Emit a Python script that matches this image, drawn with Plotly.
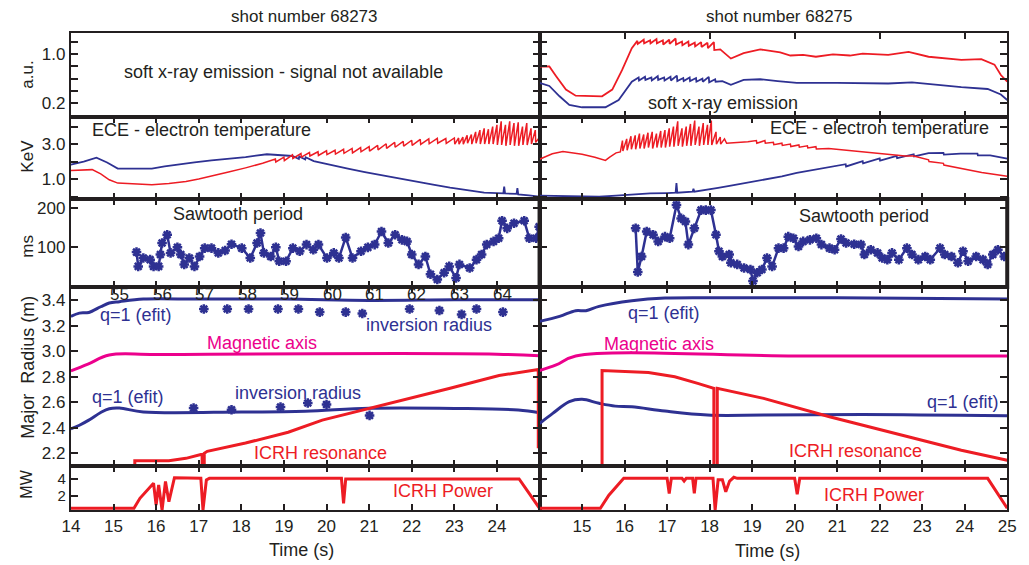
import plotly.graph_objects as go

W, H = 1029, 565
RED = '#ed1c24'
BLUE = '#2e3192'
MAG = '#ec008c'
INK = '#231f20'
FONT = 'Liberation Sans, Arial, Helvetica, sans-serif'

# ---------------- data (time in s) ----------------
# Soft x-ray emission, shot 68275 (a.u.)
sxr_68275_red = [(14.0, 0.8), (14.23, 0.8), (14.39, 0.64), (14.62, 0.42), (14.85, 0.32), (15.47, 0.31),
                 (15.71, 0.42), (15.94, 0.74), (16.17, 1.1), (16.3, 1.22), (16.31, 1.17), (16.45, 1.24),
                 (16.46, 1.18), (16.6, 1.23), (16.61, 1.18), (16.75, 1.25), (16.76, 1.18), (16.9, 1.23),
                 (16.91, 1.16), (17.05, 1.24), (17.06, 1.17), (17.2, 1.26), (17.21, 1.16), (17.35, 1.21),
                 (17.36, 1.15), (17.5, 1.21), (17.51, 1.14), (17.65, 1.19), (17.66, 1.13), (17.8, 1.2),
                 (17.81, 1.12), (17.95, 1.19), (17.96, 1.1), (18.1, 1.2), (18.11, 1.07), (18.25, 1.08),
                 (18.5, 0.93), (18.8, 1.02), (19.19, 1.08), (19.66, 1.03), (19.9, 0.98), (20.2, 0.99),
                 (20.5, 0.96), (20.9, 1.0), (21.3, 0.98), (21.6, 1.01), (22.2, 0.99), (22.68, 1.04),
                 (23.15, 0.96), (23.5, 0.94), (23.92, 0.91), (24.39, 0.92), (24.7, 0.83), (24.85, 0.66),
                 (25.0, 0.55)]
sxr_68275_blue = [(14.0, 0.53), (14.23, 0.48), (14.47, 0.31), (14.7, 0.17), (15.0, 0.13), (15.55, 0.13),
                  (15.86, 0.25), (16.17, 0.55), (16.33, 0.62), (16.34, 0.57), (16.48, 0.63), (16.49, 0.58),
                  (16.63, 0.62), (16.64, 0.57), (16.78, 0.64), (16.79, 0.58), (16.93, 0.62), (16.94, 0.57),
                  (17.08, 0.63), (17.09, 0.57), (17.23, 0.65), (17.24, 0.56), (17.38, 0.61), (17.39, 0.56),
                  (17.53, 0.62), (17.54, 0.56), (17.68, 0.61), (17.69, 0.55), (17.83, 0.6), (17.84, 0.55),
                  (17.98, 0.63), (17.99, 0.54), (18.13, 0.59), (18.14, 0.55), (18.3, 0.56), (18.5, 0.5),
                  (18.8, 0.58), (19.19, 0.59), (19.6, 0.56), (20.05, 0.53), (21.0, 0.53), (21.6, 0.53),
                  (22.2, 0.52), (22.76, 0.54), (23.3, 0.5), (23.92, 0.46), (24.54, 0.43), (24.85, 0.34),
                  (25.0, 0.25)]

# ECE electron temperature (keV)
ece_68273_blue = [(14.0, 1.83), (14.3, 2.0), (14.6, 2.22), (14.85, 1.95), (15.1, 1.6), (15.5, 1.58),
                  (15.9, 1.6), (16.2, 1.72), (16.5, 1.83), (16.9, 1.95), (17.3, 2.07), (17.7, 2.15),
                  (18.1, 2.26), (18.6, 2.42), (18.9, 2.38), (19.2, 2.32), (19.35, 2.15), (19.36, 2.3),
                  (19.5, 2.12), (19.51, 2.25), (19.7, 2.03), (20.1, 1.8), (20.5, 1.6), (20.9, 1.4),
                  (21.3, 1.21), (21.7, 1.04), (22.1, 0.86), (22.5, 0.68), (22.9, 0.51), (23.3, 0.35),
                  (23.7, 0.22), (24.15, 0.18), (24.17, 0.57), (24.19, 0.18), (24.46, 0.15), (24.48, 0.48),
                  (24.5, 0.12), (24.75, 0.07), (25.0, 0.0)]
ece_68273_red = [(14.0, 1.49), (14.25, 1.5), (14.5, 1.54), (14.7, 1.3), (14.9, 0.96), (15.1, 0.77),
                 (15.5, 0.7), (15.9, 0.67), (16.3, 0.75), (16.7, 0.86), (17.0, 1.0), (17.3, 1.16),
                 (17.7, 1.4), (18.1, 1.64), (18.5, 1.9), (18.8, 2.15), (18.81, 1.98), (19.0, 2.25),
                 (19.01, 2.05), (19.2, 2.38), (19.21, 2.18), (19.4, 2.46), (19.41, 2.26), (19.6, 2.52),
                 (19.61, 2.32), (19.8, 2.56), (19.81, 2.35), (20.0, 2.62), (20.01, 2.4), (20.2, 2.65),
                 (20.21, 2.43), (20.4, 2.7), (20.41, 2.47), (20.6, 2.75), (20.61, 2.5), (20.8, 2.8),
                 (20.81, 2.56), (21.0, 2.86), (21.01, 2.6), (21.2, 2.93), (21.21, 2.67), (21.4, 3.02),
                 (21.41, 2.75), (21.6, 3.1), (21.61, 2.82), (21.8, 3.16), (21.81, 2.88), (22.0, 3.22),
                 (22.01, 2.93), (22.2, 3.27), (22.21, 2.98), (22.4, 3.3), (22.41, 3.02), (22.6, 3.33),
                 (22.61, 3.05), (22.8, 3.32), (22.81, 3.04), (23.0, 3.35), (23.01, 3.0), (23.1, 3.35),
                 (23.11, 3.0), (23.2, 3.4), (23.21, 3.0), (23.3, 3.5), (23.31, 3.05), (23.4, 3.55),
                 (23.41, 3.0), (23.5, 3.7), (23.51, 3.05), (23.6, 3.8), (23.61, 3.0), (23.7, 3.9),
                 (23.71, 3.0), (23.8, 3.85), (23.81, 3.0), (23.9, 4.0), (23.91, 3.0), (24.0, 4.1),
                 (24.01, 2.95), (24.1, 4.3), (24.11, 2.95), (24.2, 4.1), (24.21, 2.9), (24.3, 4.3),
                 (24.31, 2.95), (24.4, 4.2), (24.41, 2.9), (24.5, 4.25), (24.51, 2.9), (24.6, 4.0),
                 (24.61, 2.95), (24.7, 4.2), (24.71, 2.95), (24.8, 3.9), (24.81, 3.0), (24.9, 3.8),
                 (24.91, 3.1), (25.0, 3.4)]
ece_68275_red = [(14.0, 2.13), (14.3, 2.45), (14.55, 2.57), (14.8, 2.5), (15.0, 2.42), (15.3, 2.25),
                 (15.55, 2.07), (15.65, 2.25), (15.8, 2.5), (15.9, 2.55), (15.95, 3.2), (15.96, 2.6),
                 (16.05, 3.3), (16.06, 2.65), (16.15, 3.45), (16.16, 2.7), (16.25, 3.5), (16.26, 2.7),
                 (16.35, 3.6), (16.36, 2.75), (16.45, 3.55), (16.46, 2.75), (16.55, 3.65), (16.56, 2.8),
                 (16.65, 3.7), (16.66, 2.75), (16.75, 3.6), (16.76, 2.8), (16.85, 3.75), (16.86, 2.8),
                 (16.95, 3.8), (16.96, 2.8), (17.05, 3.9), (17.06, 2.85), (17.15, 4.0), (17.16, 2.85),
                 (17.25, 4.3), (17.26, 2.9), (17.35, 3.9), (17.36, 2.85), (17.45, 4.0), (17.46, 2.9),
                 (17.55, 4.15), (17.56, 2.9), (17.65, 4.35), (17.66, 2.95), (17.75, 4.0), (17.76, 2.9),
                 (17.85, 4.2), (17.86, 2.95), (17.95, 4.1), (17.96, 2.95), (18.04, 4.35), (18.05, 2.95),
                 (18.15, 3.7), (18.16, 3.0), (18.25, 3.4), (18.26, 3.0), (18.35, 3.3), (18.4, 3.05),
                 (18.5, 3.06), (18.7, 3.12), (18.9, 3.14), (19.1, 3.2), (19.11, 3.05), (19.3, 3.2),
                 (19.31, 3.05), (19.5, 3.1), (19.51, 2.97), (19.7, 3.05), (19.71, 2.92), (19.9, 3.0),
                 (19.91, 2.86), (20.1, 2.95), (20.11, 2.82), (20.3, 2.9), (20.31, 2.78), (20.5, 2.85),
                 (20.51, 2.72), (20.8, 2.75), (21.2, 2.65), (21.6, 2.55), (22.0, 2.46), (22.6, 2.32),
                 (22.8, 2.32), (23.15, 2.1), (23.16, 2.0), (23.5, 1.9), (23.51, 1.8), (23.9, 1.62),
                 (24.4, 1.38), (25.0, 1.16)]
ece_68275_blue = [(14.0, 0.05), (14.5, 0.04), (15.0, 0.0), (15.4, -0.01), (15.8, 0.05), (16.2, 0.13),
                  (16.6, 0.18), (17.0, 0.2), (17.2, 0.22), (17.22, 0.77), (17.24, 0.22), (17.6, 0.28),
                  (17.62, 0.45), (17.64, 0.28), (17.95, 0.38), (18.2, 0.5), (18.5, 0.63), (18.9, 0.8),
                  (19.3, 0.96), (19.7, 1.15), (20.05, 1.35), (20.4, 1.5), (20.8, 1.68), (21.2, 1.85),
                  (21.21, 1.72), (21.6, 2.03), (21.61, 1.9), (22.0, 2.18), (22.01, 2.05), (22.4, 2.32),
                  (22.41, 2.2), (22.8, 2.42), (22.81, 2.3), (23.15, 2.48), (23.5, 2.5), (23.51, 2.4),
                  (23.9, 2.46), (24.3, 2.45), (24.31, 2.35), (24.6, 2.35), (25.0, 2.17)]

# Sawtooth period (ms)
saw_68273 = [(15.54, 88), (15.58, 52), (15.70, 73), (15.86, 69), (15.94, 52), (16.06, 52), (16.10, 82),
             (16.14, 111), (16.26, 132), (16.34, 86), (16.50, 100), (16.58, 82), (16.66, 57), (16.78, 73),
             (16.90, 52), (17.02, 77), (17.14, 98), (17.30, 98), (17.46, 86), (17.62, 92), (17.77, 108),
             (18.01, 98), (18.21, 73), (18.37, 111), (18.45, 136), (18.53, 86), (18.69, 77), (18.81, 100),
             (18.89, 65), (19.05, 65), (19.21, 98), (19.37, 90), (19.53, 107), (19.69, 94), (19.81, 107),
             (20.01, 73), (20.17, 86), (20.29, 73), (20.45, 125), (20.61, 73), (20.81, 90), (20.97, 100),
             (21.13, 107), (21.29, 140), (21.45, 111), (21.61, 132), (21.77, 119), (21.89, 115), (22.00, 82),
             (22.16, 57), (22.32, 77), (22.44, 32), (22.60, 19), (22.76, 36), (22.88, 52), (23.04, 23),
             (23.12, 57), (23.36, 48), (23.52, 69), (23.64, 82), (23.76, 107), (23.92, 115), (24.04, 123),
             (24.12, 167), (24.24, 148), (24.40, 161), (24.64, 167), (24.76, 123), (24.92, 123), (24.99, 152)]
saw_68275 = [(16.26, 148), (16.31, 38), (16.40, 77), (16.52, 140), (16.67, 132), (16.79, 115), (16.95, 127),
             (17.06, 123), (17.22, 207), (17.33, 173), (17.43, 165), (17.50, 107), (17.64, 148), (17.80, 194),
             (17.91, 194), (18.03, 194), (18.15, 132), (18.22, 90), (18.30, 77), (18.46, 82), (18.50, 61),
             (18.65, 57), (18.81, 48), (18.96, 44), (19.02, 15), (19.12, 36), (19.23, 44), (19.35, 73),
             (19.47, 52), (19.62, 98), (19.74, 98), (19.85, 127), (19.97, 123), (20.09, 102), (20.20, 115),
             (20.36, 119), (20.51, 123), (20.63, 107), (20.82, 98), (20.94, 94), (21.09, 121), (21.21, 111),
             (21.40, 108), (21.56, 107), (21.64, 82), (21.79, 94), (21.95, 86), (22.06, 73), (22.18, 69),
             (22.29, 86), (22.45, 69), (22.64, 98), (22.76, 82), (22.91, 69), (23.07, 77), (23.19, 69),
             (23.42, 98), (23.53, 82), (23.69, 77), (23.84, 61), (23.96, 90), (24.08, 65), (24.27, 77),
             (24.43, 69), (24.54, 57), (24.66, 82), (24.78, 94), (24.93, 77)]

# Major radius (m)
q1_out_68273 = [(14.0, 3.274), (14.2, 3.3), (14.42, 3.305), (14.7, 3.35), (14.9, 3.379), (15.14, 3.39),
                (15.7, 3.41), (17.0, 3.41), (19.0, 3.41), (21.0, 3.4), (23.0, 3.405), (25.0, 3.405)]
q1_in_68273 = [(14.0, 2.392), (14.2, 2.42), (14.42, 2.46), (14.7, 2.52), (14.9, 2.55), (15.14, 2.555),
               (15.7, 2.524), (18.0, 2.524), (19.5, 2.53), (21.0, 2.553), (23.0, 2.552), (24.5, 2.54),
               (25.0, 2.518)]
axis_68273 = [(14.0, 2.847), (14.4, 2.9), (14.9, 2.971), (16.0, 2.975), (24.0, 2.978), (25.0, 2.965)]
icrh_res_68273 = [(15.5, 2.05), (15.5, 2.142), (16.3, 2.142), (16.7, 2.16), (17.05, 2.19), (17.08, 2.19),
                  (17.08, 2.05), (17.13, 2.05), (17.13, 2.2), (17.2, 2.215), (18.1, 2.28), (19.1, 2.365),
                  (19.9, 2.46), (21.0, 2.55), (22.9, 2.71), (24.05, 2.81), (24.97, 2.858), (24.97, 2.24)]
inv_out_68273 = [(17.12, 3.332), (17.67, 3.332), (18.17, 3.332), (18.86, 3.332), (19.34, 3.332),
                 (19.84, 3.308), (20.45, 3.308), (20.84, 3.297), (21.95, 3.332), (22.65, 3.32),
                 (23.17, 3.29), (23.52, 3.332), (24.14, 3.308)]
inv_in_68273 = [(16.88, 2.555), (17.77, 2.542), (18.92, 2.563), (19.56, 2.595), (20.0, 2.582), (21.01, 2.497)]
channels = ['55', '56', '57', '58', '59', '60', '61', '62', '63', '64']
channel_t = [15.15, 16.15, 17.14, 18.14, 19.13, 20.13, 21.12, 22.12, 23.12, 24.12]

q1_out_68275 = [(14.0, 3.235), (14.47, 3.274), (14.85, 3.319), (15.09, 3.319), (15.4, 3.353), (16.17, 3.397),
                (16.95, 3.418), (18.5, 3.42), (21.0, 3.42), (25.0, 3.41)]
q1_in_68275 = [(14.0, 2.434), (14.31, 2.513), (14.7, 2.605), (15.0, 2.623), (15.4, 2.592), (15.78, 2.57),
               (16.17, 2.565), (16.95, 2.531), (17.95, 2.5), (19.27, 2.5), (21.6, 2.505), (25.0, 2.494)]
axis_68275 = [(14.0, 2.849), (14.39, 2.893), (14.85, 2.964), (20.0, 2.964), (25.0, 2.964)]
icrh_res_68275 = [(15.47, 2.05), (15.47, 2.849), (16.56, 2.833), (17.18, 2.8), (17.72, 2.749), (18.1, 2.71),
                  (18.1, 2.05), (18.18, 2.05), (18.18, 2.71), (19.27, 2.631), (20.82, 2.487), (22.37, 2.355),
                  (23.92, 2.224), (25.0, 2.145)]

# ICRH power (MW)
pow_68273 = [(14.0, 0.55), (15.48, 0.55), (15.62, 1.73), (15.94, 3.5), (16.0, 0.94), (16.06, 3.3),
             (16.14, 0.35), (16.22, 3.7), (16.3, 1.33), (16.38, 3.3), (16.43, 4.15), (17.05, 4.08),
             (17.1, 0.35), (17.18, 3.9), (17.25, 4.08), (20.35, 4.08), (20.4, 1.14), (20.45, 4.0),
             (24.52, 4.0), (25.0, 0.55)]
pow_68275 = [(14.0, 0.55), (15.43, 0.55), (15.63, 2.1), (15.98, 4.08), (17.0, 4.08), (17.05, 2.3),
             (17.1, 4.08), (17.35, 4.08), (17.4, 3.76), (17.45, 4.08), (17.6, 4.08), (17.64, 2.3),
             (17.68, 4.08), (18.08, 4.08), (18.13, 0.35), (18.2, 3.9), (18.3, 3.9), (18.38, 2.5),
             (18.47, 3.76), (18.57, 4.2), (18.65, 4.08), (20.0, 4.08), (20.06, 2.2), (20.12, 4.08),
             (24.54, 4.08), (25.0, 0.55)]


def unz(pairs):
    return [p[0] for p in pairs], [p[1] for p in pairs]


# ---------------- layout geometry ----------------
cols = [(63, 540), (540, 1016)]
rows = [(33, 117), (117, 199), (199, 287), (287, 466), (466, 510)]
yranges = [[-0.03, 1.35], [-0.14, 4.55], [0, 222], [2.10, 3.505], [0.35, 5.53]]
ytickvals = [[0.2, 0.4, 0.6, 0.8, 1.0, 1.2], [0, 1, 2, 3, 4], [100, 200],
             [2.2, 2.4, 2.6, 2.8, 3.0, 3.2, 3.4], [2, 4]]
yticktext = [['0.2', '', '', '', '1.0', ''], ['', '1.0', '', '3.0', ''], ['100', '200'],
             ['2.2', '2.4', '2.6', '2.8', '3.0', '3.2', '3.4'], ['2', '4']]
ytickfont = [17, 17, 17, 17, 15]


def sfx(r, c):
    k = r * 2 + c + 1
    return '' if k == 1 else str(k)


fig = go.Figure()


def line(pairs, r, c, color, width=2, shape='linear'):
    t, v = unz(pairs)
    s = sfx(r, c)
    fig.add_trace(go.Scatter(x=t, y=v, mode='lines', line=dict(color=color, width=width, shape=shape),
                             xaxis='x' + s, yaxis='y' + s, hoverinfo='skip'))


def stars(pairs, r, c, with_line, size=8):
    t, v = unz(pairs)
    s = sfx(r, c)
    fig.add_trace(go.Scatter(x=t, y=v, mode='lines+markers' if with_line else 'markers',
                             line=dict(color=BLUE, width=2.5),
                             marker=dict(symbol='asterisk', size=size, color=BLUE,
                                         line=dict(color=BLUE, width=2.5)),
                             xaxis='x' + s, yaxis='y' + s, hoverinfo='skip'))


# row 1: soft x-ray (left: no signal -> empty panel; right: two channels)
fig.add_trace(go.Scatter(x=[None], y=[None], mode='lines', xaxis='x', yaxis='y', hoverinfo='skip'))
line(sxr_68275_red, 0, 1, RED, 1.8)
line(sxr_68275_blue, 0, 1, BLUE, 1.8)
# row 2: ECE
line(ece_68273_blue, 1, 0, BLUE, 1.8)
line(ece_68273_red, 1, 0, RED, 1.5)
line(ece_68275_blue, 1, 1, BLUE, 1.8)
line(ece_68275_red, 1, 1, RED, 1.5)
# row 3: sawtooth period
stars(saw_68273, 2, 0, True)
stars(saw_68275, 2, 1, True)
# row 4: major radius
line(q1_out_68273, 3, 0, BLUE, 3, 'spline')
line(q1_in_68273, 3, 0, BLUE, 3, 'spline')
line(axis_68273, 3, 0, MAG, 3, 'spline')
line(icrh_res_68273, 3, 0, RED, 3)
stars(inv_out_68273, 3, 0, False, 8)
stars(inv_in_68273, 3, 0, False, 8)
line(q1_out_68275, 3, 1, BLUE, 3, 'spline')
line(q1_in_68275, 3, 1, BLUE, 3, 'spline')
line(axis_68275, 3, 1, MAG, 3, 'spline')
line(icrh_res_68275, 3, 1, RED, 3)
# row 5: ICRH power
line(pow_68273, 4, 0, RED, 3)
line(pow_68275, 4, 1, RED, 3)

axes = {}
for r in range(5):
    for c in range(2):
        s = sfx(r, c)
        x0, x1 = cols[c]
        top, bot = rows[r]
        if r == 0:
            xt = [] if c == 0 else [16, 18, 20, 22, 24]
        else:
            xt = list(range(15, 25))
        xa = dict(domain=[x0 / W, x1 / W], range=[14, 25], anchor='y' + s,
                  showline=True, linecolor=INK, linewidth=2,
                  mirror='ticks' if xt else True,
                  ticks='inside' if xt else '', ticklen=6, tickwidth=1.5, tickcolor=INK,
                  tickmode='array', tickvals=xt, showgrid=False, zeroline=False,
                  showticklabels=(r == 4),
                  tickfont=dict(family=FONT, size=17, color=INK))
        if r == 4:
            xt = list(range(14, 26))
            xa['tickvals'] = xt
            xa['ticktext'] = [str(v) if ((c == 0 and v < 25) or (c == 1 and v > 14)) else '' for v in xt]
        axes['xaxis' + s] = xa
        ya = dict(domain=[1 - bot / H, 1 - top / H], range=yranges[r], anchor='x' + s,
                  showline=True, linecolor=INK, linewidth=2, mirror='ticks',
                  ticks='inside', ticklen=7, tickwidth=1.5, tickcolor=INK,
                  tickmode='array', tickvals=ytickvals[r], ticktext=yticktext[r],
                  showgrid=False, zeroline=False, showticklabels=(c == 0),
                  tickfont=dict(family=FONT, size=ytickfont[r], color=INK))
        axes['yaxis' + s] = ya

fig.update_layout(width=W, height=H, margin=dict(l=0, r=0, t=0, b=0),
                  paper_bgcolor='white', plot_bgcolor='white', showlegend=False, **axes)

# thick frame around the right sawtooth panel
fig.add_shape(type='rect', xref='x6 domain', yref='y6 domain', x0=0, x1=1, y0=0, y1=1,
              line=dict(color=INK, width=4))


def ann(text, x, y, size=18, color=INK, angle=0):
    fig.add_annotation(text=text, x=x / W, y=1 - y / H, xref='paper', yref='paper', showarrow=False,
                       font=dict(family=FONT, size=size, color=color), textangle=angle,
                       xanchor='center', yanchor='middle')


def dann(text, t, v, r, c, size=18, color=INK):
    s = sfx(r, c)
    fig.add_annotation(text=text, x=t, y=v, xref='x' + s, yref='y' + s, showarrow=False,
                       font=dict(family=FONT, size=size, color=color), xanchor='center', yanchor='middle')


ann('shot number 68273', 301, 16, 17)
ann('shot number 68275', 784, 16, 17)
ann('soft x-ray emission - signal not available', 279, 72)
ann('soft x-ray emission', 727, 103)
ann('ECE - electron temperature', 196, 130)
ann('ECE - electron temperature', 886, 128)
ann('Sawtooth period', 233, 214)
ann('Sawtooth period', 870, 216)
ann('ICRH Power', 442, 491, 18, RED)
ann('ICRH Power', 880, 495, 18, RED)
ann('Time (s)', 298, 550)
ann('Time (s)', 772, 551)
ann('a.u.', 19, 75, 17, INK, -90)
ann('KeV', 19, 156, 17, INK, -90)
ann('ms', 19, 246, 17, INK, -90)
ann('Major&nbsp; Radius (m)', 19, 367, 18, INK, -90)
ann('MW', 17, 484, 16, INK, -90)

# labels inside the radius panels (placed at data positions)
dann('q=1 (efit)', 15.52, 3.287, 3, 0, 18, BLUE)
dann('inversion radius', 22.41, 3.208, 3, 0, 18, BLUE)
dann('Magnetic axis', 18.49, 3.068, 3, 0, 18, MAG)
dann('q=1 (efit)', 15.35, 2.642, 3, 0, 18, BLUE)
dann('inversion radius', 19.33, 2.674, 3, 0, 18, BLUE)
dann('ICRH resonance', 19.85, 2.2, 3, 0, 18, RED)
dann('q=1 (efit)', 16.93, 3.30, 3, 1, 18, BLUE)
dann('Magnetic axis', 16.81, 3.059, 3, 1, 18, MAG)
dann('q=1 (efit)', 23.95, 2.605, 3, 1, 18, BLUE)
dann('ICRH resonance', 21.44, 2.219, 3, 1, 18, RED)
for lab, t in zip(channels, channel_t):
    dann(lab, t, 3.447, 3, 0, 17, INK)

fig.write_html('out.html')
